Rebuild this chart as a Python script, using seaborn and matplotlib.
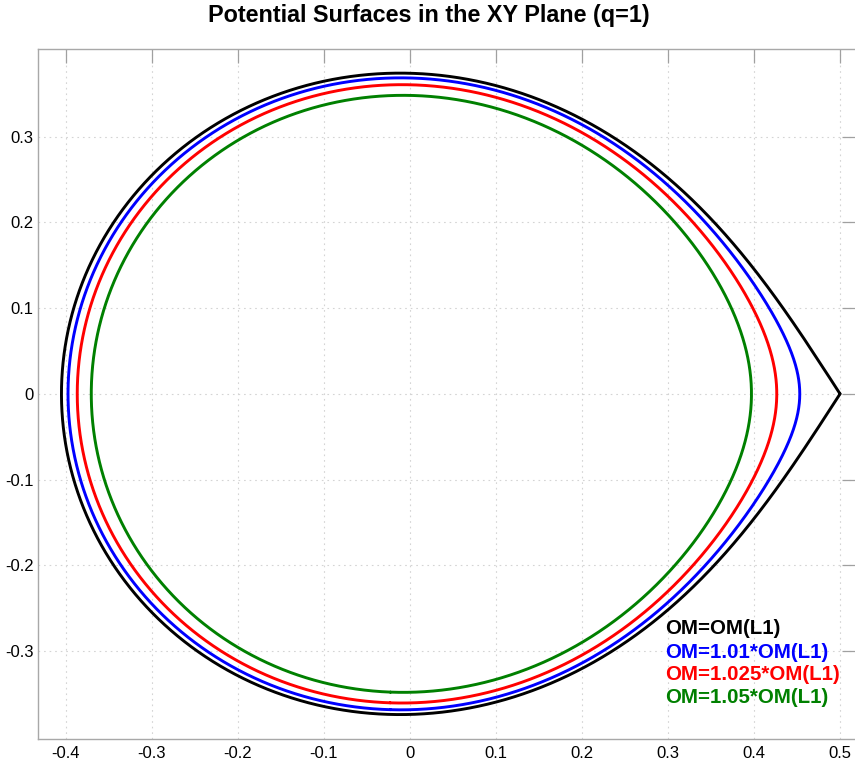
import numpy as np
import pandas as pd
import matplotlib
matplotlib.use("Agg")
import matplotlib.pyplot as plt
import seaborn as sns
import contourpy

# Mass ratio of the binary and the potential levels, as multiples of OM(L1)
q = 1.0
level_factors = [1.0, 1.01, 1.025, 1.05]
level_labels = ["OM=OM(L1)", "OM=1.01*OM(L1)", "OM=1.025*OM(L1)", "OM=1.05*OM(L1)"]
level_colors = ["#000000", "#0000ff", "#ff0000", "#008000"]

x_ticks = [-0.4, -0.3, -0.2, -0.1, 0.0, 0.1, 0.2, 0.3, 0.4, 0.5]
y_ticks = [-0.3, -0.2, -0.1, 0.0, 0.1, 0.2, 0.3]


def roche_potential(x, y):
    """Modified (Wilson-Devinney) Roche potential, primary at origin, separation 1."""
    r1 = np.hypot(x, y)
    r2 = np.hypot(x - 1.0, y)
    with np.errstate(divide="ignore"):
        om = 1.0 / r1 + q * (1.0 / r2 - x) + 0.5 * (1.0 + q) * (x ** 2 + y ** 2)
    return np.where(np.isfinite(om), om, 1e6)


def inner_lagrange_point():
    """Locate L1 on the x axis by bisection of dOM/dx."""
    def dom(x):
        return -1.0 / x ** 2 + q / (1.0 - x) ** 2 - q + (1.0 + q) * x
    lo, hi = 0.05, 0.95
    for _ in range(200):
        mid = 0.5 * (lo + hi)
        if dom(lo) * dom(mid) <= 0:
            hi = mid
        else:
            lo = mid
    return 0.5 * (lo + hi)


x_l1 = inner_lagrange_point()
om_l1 = float(roche_potential(np.array(x_l1), np.array(0.0)))

# Sample the potential on a grid around the primary's lobe
gx = np.linspace(-0.45, x_l1, 1901)
gy = np.linspace(-0.40, 0.40, 1601)
GX, GY = np.meshgrid(gx, gy)
OM = roche_potential(GX, GY)
gen = contourpy.contour_generator(gx, gy, OM)

rows = []
for k, (fac, lab) in enumerate(zip(level_factors, level_labels)):
    level = fac * om_l1 * (1 - 1e-7)
    for j, seg in enumerate(gen.lines(level)):
        rows.append(pd.DataFrame({"x": seg[:, 0], "y": seg[:, 1],
                                  "label": lab, "part": f"{k}-{j}"}))
curves = pd.concat(rows, ignore_index=True)

sns.set_theme(style="white")
plt.rcParams["font.family"] = ["Liberation Sans", "DejaVu Sans"]
plt.rcParams["text.color"] = "black"

fig = plt.figure(figsize=(8.55, 7.61), dpi=100)
ax = fig.add_axes([37.7 / 855, 22 / 761, (856 - 37.7) / 855, (739 - 49.3) / 761])

for lab, col in zip(level_labels, level_colors):
    sub = curves[curves["label"] == lab]
    for part, piece in sub.groupby("part"):
        sns.lineplot(data=piece, x="x", y="y", sort=False, estimator=None,
                     color=col, linewidth=2.1, ax=ax)

ax.set_xlim(-0.4326, 0.5186)
ax.set_ylim(-0.4027, 0.4020)
ax.set_xticks(x_ticks)
ax.set_yticks(y_ticks)
ax.set_xticklabels([f"{v:g}" for v in x_ticks])
ax.set_yticklabels([f"{v:g}" for v in y_ticks])
ax.set_xlabel("")
ax.set_ylabel("")

ax.grid(True, color="#d4d4d4", linestyle=(0, (1.5, 3.5)), linewidth=0.8)
ax.tick_params(direction="in", length=10, width=0.9, color="#a0a0a0",
               top=True, right=True, labelsize=12, labelcolor="black")
ax.tick_params(axis="x", pad=5)
ax.tick_params(axis="y", pad=3)
for sp in ax.spines.values():
    sp.set_color("#a8a8a8")
    sp.set_linewidth(1.0)

# Level annotations stacked in the lower right
text_y = [-0.2732, -0.3012, -0.3280, -0.3537]
for lab, col, ty in zip(level_labels, level_colors, text_y):
    ax.text(0.297, ty, lab, color=col, fontsize=14.8, fontweight="bold",
            ha="left", va="center")

fig.text(0.502, 1 - 22 / 761, "Potential Surfaces in the XY Plane (q=1)",
         ha="center", va="baseline", fontsize=16.8, fontweight="bold",
         color="black")

fig.savefig("out.png", dpi=100)
